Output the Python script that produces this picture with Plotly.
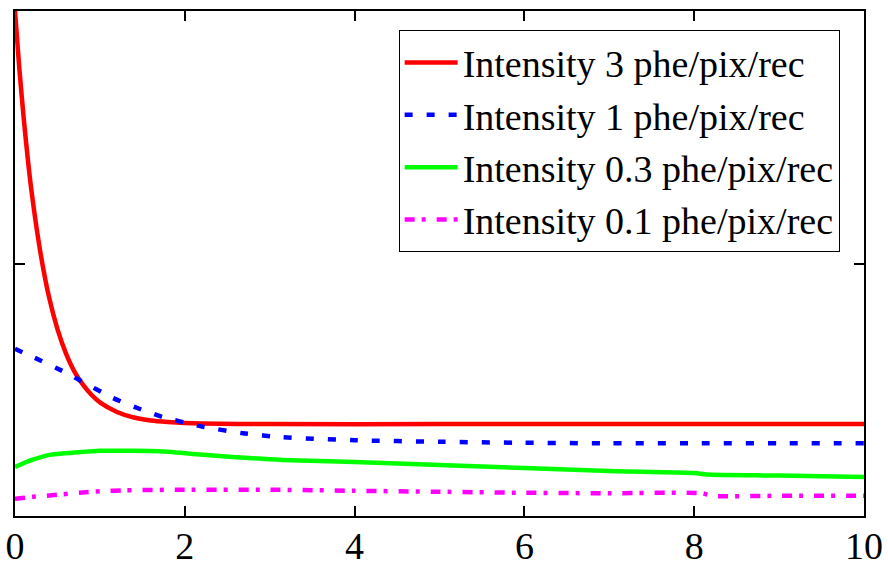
import plotly.graph_objects as go

# Values (y normalised 0..1 of the plot height)
x_red = [0, 0.05, 0.1, 0.15, 0.2, 0.3, 0.4, 0.5, 0.6, 0.7, 0.8, 0.9, 1.0, 1.2, 1.4, 1.6, 1.8, 2.0, 2.2, 3.0, 5.0, 7.5, 10.0]
y_red = [1.000, 0.888, 0.792, 0.708, 0.636, 0.521, 0.434, 0.370, 0.322, 0.286, 0.260, 0.240, 0.225, 0.206, 0.195, 0.189, 0.186, 0.184, 0.183, 0.182, 0.182, 0.182, 0.182]

x_blue = [0, 0.21, 0.61, 0.76, 1.15, 1.5, 1.74, 2.18, 2.68, 3.15, 4.0, 5.0, 6.0, 7.0, 8.0, 9.0, 10.0]
y_blue = [0.331, 0.315, 0.283, 0.269, 0.234, 0.210, 0.196, 0.178, 0.164, 0.156, 0.150, 0.147, 0.145, 0.144, 0.144, 0.144, 0.144]

x_green = [0, 0.2, 0.41, 0.8, 1.0, 1.4, 1.7, 2.1, 2.56, 3.15, 4.0, 5.0, 6.0, 7.0, 8.0, 8.15, 9.0, 10.0]
y_green = [0.097, 0.111, 0.121, 0.127, 0.129, 0.129, 0.128, 0.123, 0.117, 0.111, 0.107, 0.101, 0.095, 0.089, 0.085, 0.082, 0.080, 0.077]

x_mag = [0, 0.21, 0.5, 0.76, 1.0, 1.3, 2.0, 3.0, 4.0, 5.0, 6.0, 7.0, 8.1, 8.2, 9.0, 10.0]
y_mag = [0.034, 0.038, 0.042, 0.046, 0.049, 0.051, 0.052, 0.052, 0.050, 0.048, 0.046, 0.045, 0.045, 0.040, 0.040, 0.040]

names = ["Intensity 3 phe/pix/rec", "Intensity 1 phe/pix/rec",
         "Intensity 0.3 phe/pix/rec", "Intensity 0.1 phe/pix/rec"]
x_ticks = [0, 2, 4, 6, 8, 10]

fig = go.Figure()
fig.add_trace(go.Scatter(x=x_red, y=y_red, mode="lines", name=names[0],
                         line=dict(color="#FF0000", width=4.5, shape="spline", smoothing=0.6)))
fig.add_trace(go.Scatter(x=x_blue, y=y_blue, mode="lines", name=names[1],
                         line=dict(color="#0000FF", width=4.5, dash="8px,14px", shape="spline", smoothing=0.6)))
fig.add_trace(go.Scatter(x=x_green, y=y_green, mode="lines", name=names[2],
                         line=dict(color="#00FF00", width=4.5, shape="spline", smoothing=0.6)))
fig.add_trace(go.Scatter(x=x_mag, y=y_mag, mode="lines", name=names[3],
                         line=dict(color="#FF00FF", width=4.5, dash="10px,7px,4px,11px", shape="spline", smoothing=0.6)))

fig.update_layout(
    width=888, height=569,
    margin=dict(l=15, r=24, t=11, b=53),
    paper_bgcolor="white", plot_bgcolor="white",
    font=dict(family="Liberation Serif", size=38, color="black"),
    legend=dict(x=0.9713, y=0.962, xanchor="right", yanchor="top",
                bgcolor="white", bordercolor="black", borderwidth=1,
                font=dict(family="Liberation Serif", size=38, color="black"),
                tracegroupgap=0, itemwidth=53),
    showlegend=True,
)
fig.update_xaxes(range=[0, 10], tickvals=x_ticks, ticktext=[str(v) for v in x_ticks],
                 ticks="inside", ticklen=10, tickwidth=1.5, tickcolor="black",
                 showline=True, linecolor="black", linewidth=1.5, mirror="ticks",
                 showgrid=False, zeroline=False, automargin=False,
                 ticklabelstandoff=-4,
                 tickfont=dict(family="Liberation Serif", size=38, color="black"))
fig.update_yaxes(range=[0, 1], tickvals=[0, 0.5, 1], showticklabels=False,
                 ticks="inside", ticklen=10, tickwidth=1.5, tickcolor="black",
                 showline=True, linecolor="black", linewidth=1.5, mirror="ticks",
                 showgrid=False, zeroline=False, automargin=False)

fig.write_html("out.html")
